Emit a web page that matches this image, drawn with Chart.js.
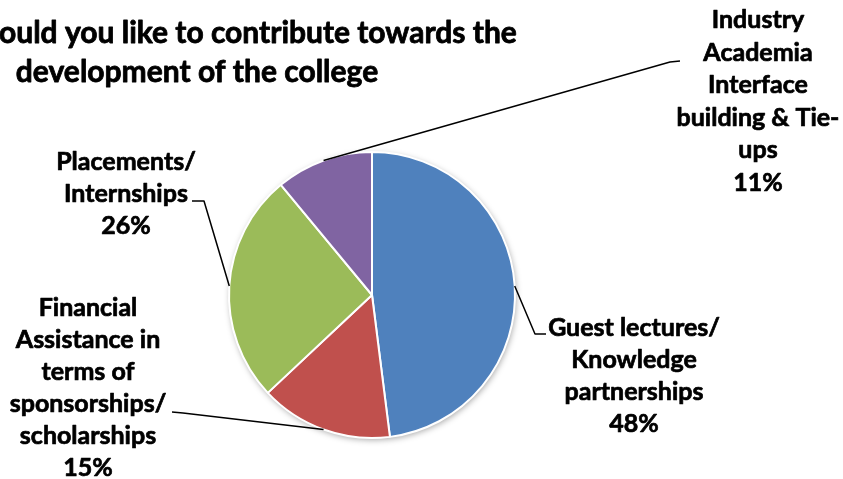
<!DOCTYPE html>
<html>
<head>
<meta charset="utf-8">
<script src="https://cdn.jsdelivr.net/npm/chart.js@4.4.1/dist/chart.umd.min.js"></script>
<style>
  html, body { margin: 0; padding: 0; background: #fff; }
  #wrap { width: 843px; height: 479px; }
</style>
</head>
<body>
<div id="wrap"><canvas id="chart" width="843" height="479"></canvas></div>
<script>
// categories, one entry per slice (label lines as shown in the picture)
const categories = [
    ['Guest lectures/', 'Knowledge', 'partnerships'],
    ['Financial', 'Assistance in', 'terms of', 'sponsorships/', 'scholarships'],
    ['Placements/', 'Internships'],
    ['Industry', 'Academia', 'Interface', 'building & Tie-', 'ups']
];
const shares = [48, 15, 26, 11];
const sliceColors = ['#4F81BD', '#C0504D', '#9BBB59', '#8064A2'];
const titleLines = ['ould you like to contribute towards the', 'development of the college'];

const FONT = 'bold 25px Lato, "Open Sans", sans-serif';
const TITLE_FONT = 'bold 30px Lato, "Open Sans", sans-serif';

// where each label block sits and where its leader line bends
const labelLayout = [
    { cx: 634, top: 328, lh: 32, elbow: [535, 334], end: [546, 334] },
    { cx: 88, top: 308, lh: 32, elbow: [183, 413], end: [172, 412] },
    { cx: 126, top: 162, lh: 32, elbow: [204, 201], end: [192, 201] },
    { cx: 758, top: 20, lh: 32.6, elbow: [670, 62], end: [680, 61] }
];

// Lato bold is a touch lighter than the original face, so thicken it
function boldText(ctx, t, x, y) {
    ctx.strokeText(t, x, y);
    ctx.fillText(t, x, y);
}

const pieShadow = {
    id: 'pieShadow',
    beforeDatasetsDraw(chart) {
        const arc = chart.getDatasetMeta(0).data[0];
        if (!arc) return;
        const ctx = chart.ctx;
        ctx.save();
        ctx.shadowColor = 'rgba(0,0,0,0.35)';
        ctx.shadowBlur = 6;
        ctx.shadowOffsetX = 1;
        ctx.shadowOffsetY = 2;
        ctx.fillStyle = '#ffffff';
        ctx.beginPath();
        ctx.arc(arc.x, arc.y, arc.outerRadius, 0, Math.PI * 2);
        ctx.fill();
        ctx.restore();
    }
};

const outsideLabels = {
    id: 'outsideLabels',
    afterDatasetsDraw(chart) {
        const ctx = chart.ctx;
        const meta = chart.getDatasetMeta(0);
        ctx.save();
        ctx.fillStyle = '#000';
        ctx.textBaseline = 'middle';

        // title
        ctx.font = TITLE_FONT;
        ctx.strokeStyle = '#000';
        ctx.lineWidth = 0.8;
        ctx.lineJoin = 'round';
        ctx.textAlign = 'left';
        boldText(ctx, titleLines[0], -1, 33);
        ctx.textAlign = 'center';
        boldText(ctx, titleLines[1], 197, 72);

        ctx.font = FONT;
        meta.data.forEach((arc, i) => {
            const lay = labelLayout[i];
            const mid = (arc.startAngle + arc.endAngle) / 2;
            const sx = arc.x + Math.cos(mid) * arc.outerRadius;
            const sy = arc.y + Math.sin(mid) * arc.outerRadius;

            ctx.lineWidth = 1.5;
            ctx.beginPath();
            ctx.moveTo(sx, sy);
            ctx.lineTo(lay.elbow[0], lay.elbow[1]);
            ctx.lineTo(lay.end[0], lay.end[1]);
            ctx.stroke();

            ctx.lineWidth = 0.7;
            const lines = categories[i].concat([shares[i] + '%']);
            lines.forEach((t, k) => {
                boldText(ctx, t, lay.cx, lay.top + k * lay.lh);
            });
        });
        ctx.restore();
    }
};

new Chart(document.getElementById('chart').getContext('2d'), {
    type: 'pie',
    data: {
        labels: categories.map(c => c.join(' ')),
        datasets: [{
            data: shares,
            backgroundColor: sliceColors,
            borderColor: '#ffffff',
            borderWidth: 2
        }]
    },
    options: {
        responsive: false,
        animation: false,
        devicePixelRatio: 1,
        layout: { padding: { top: 151, bottom: 40, left: 227, right: 326 } },
        plugins: {
            legend: { display: false },
            tooltip: { enabled: false },
            title: { display: false }
        }
    },
    plugins: [pieShadow, outsideLabels]
});
</script>
</body>
</html>
